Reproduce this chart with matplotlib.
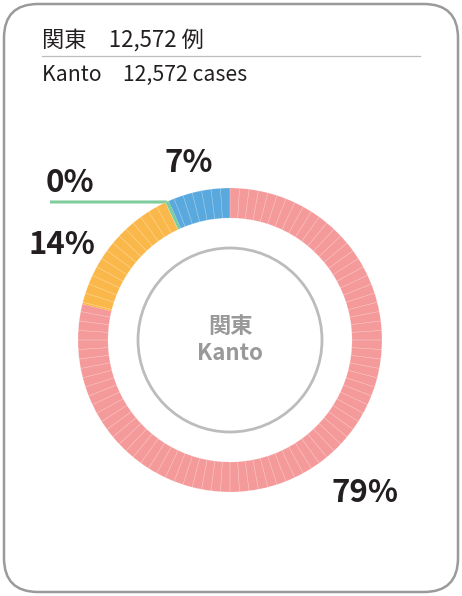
import matplotlib
matplotlib.use('Agg')
import matplotlib.pyplot as plt
from matplotlib.patches import FancyBboxPatch, Circle

plt.rcParams['font.family'] = ['Noto Sans CJK JP', 'DejaVu Sans']

# data (clockwise from top)
categories = ['other', 'unknown', 'overseas', 'local']
shares = [78.8, 14.2, 0.4, 6.6]
labels = ['79%', '14%', '0%', '7%']
colors = ['#f59a9a', '#fbb84a', '#80cc9c', '#5aa9de']

title_jp = '関東\u300012,572 例'
title_en = 'Kanto\u300012,572 cases'
center_text = '関東\nKanto'

W, H = 462, 596
fig = plt.figure(figsize=(W / 100, H / 100), dpi=100)
ax = fig.add_axes([0, 0, 1, 1])
ax.set_xlim(0, W)
ax.set_ylim(H, 0)
ax.axis('off')

# card border
card = FancyBboxPatch((4, 4), W - 8, H - 8, boxstyle='round,pad=0,rounding_size=34',
                      fc='white', ec='#9a9a9a', lw=1.8)
ax.add_patch(card)

ax.text(42, 40, title_jp, fontsize=16, color='#231f20', va='center', ha='left')
ax.plot([42, 420], [56, 56], color='#bdbdbd', lw=0.9)
ax.text(42, 75, title_en, fontsize=15.3, color='#231f20', va='center', ha='left')

# donut
cx, cy, half = 230, 340, 165
ax_d = fig.add_axes([(cx - half) / W, 1 - (cy + half) / H, 2 * half / W, 2 * half / H])
ax_d.set_xlim(-half, half)
ax_d.set_ylim(-half, half)
ax_d.set_aspect('equal')
ax_d.axis('off')

r_out, ring = 152, 30
ax_d.pie(shares, colors=colors, radius=r_out, startangle=90, counterclock=False,
         wedgeprops=dict(width=ring, linewidth=0))
# thin 1% divisions
ax_d.pie([1] * 100, colors=['none'] * 100, radius=r_out, startangle=90, counterclock=False,
         wedgeprops=dict(width=ring, linewidth=0.35, edgecolor=(1, 1, 1, 0.3), fill=False))
ax_d.set_xlim(-half, half)
ax_d.set_ylim(-half, half)
ax_d.add_patch(Circle((0, 0), 92, fill=False, ec='#bcbcbc', lw=2))

ax.text(cx, 340, center_text, fontsize=16, fontweight='bold', color='#999999',
        ha='center', va='center', linespacing=1.2)

# percent labels
big = dict(fontsize=22.5, fontweight='bold', color='#231f20', ha='center', va='center')
ax.text(189, 163, labels[3], **big)
ax.text(70, 183, labels[2], **big)
ax.text(62, 245, labels[1], **big)
ax.text(365, 493, labels[0], **big)
ax.plot([50, 166, 171], [202, 202, 207], color=colors[2], lw=2.2, solid_capstyle='butt')

fig.savefig('out.png', dpi=100)
